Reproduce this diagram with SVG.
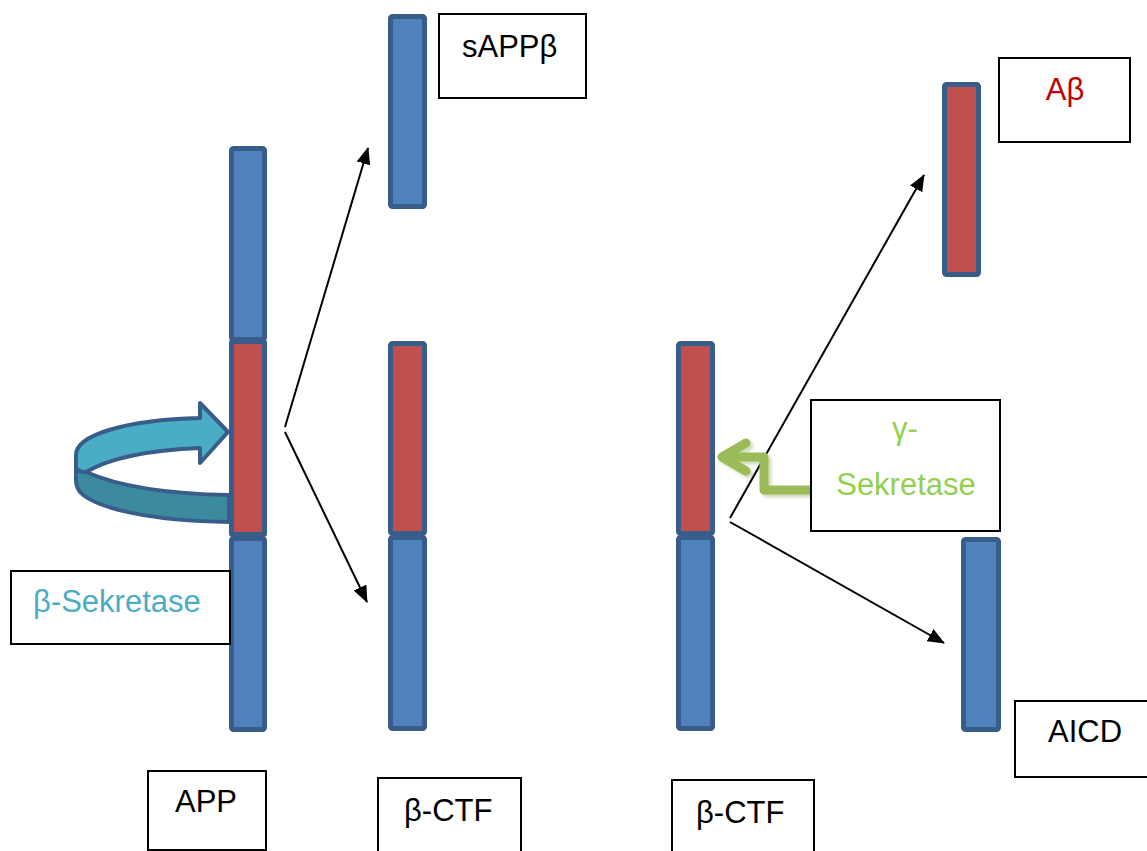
<svg xmlns="http://www.w3.org/2000/svg" width="1147" height="851" viewBox="0 0 1147 851">
  <style>
    .seg-blue { fill: #4F81BD; stroke: #385D8A; stroke-width: 5; }
    .seg-red { fill: #C0504D; stroke: #385D8A; stroke-width: 5; }
    .box { fill: #FFFFFF; stroke: #000000; stroke-width: 2; }
    .lbl { font-family: "Liberation Sans", Arial, sans-serif; font-size: 31px; fill: #000000; }
    .conn { stroke: #000000; stroke-width: 2; fill: none; marker-end: url(#tri); }
  </style>
  <defs>
    <marker id="tri" markerUnits="userSpaceOnUse" markerWidth="18" markerHeight="14" refX="16" refY="7" orient="auto">
      <path d="M0,0 L17,7 L0,14 Z" fill="#000000"/>
    </marker>
    <filter id="soft" x="-20%" y="-20%" width="140%" height="140%">
      <feGaussianBlur stdDeviation="1.5"/>
    </filter>
  </defs>

  <rect width="1147" height="851" fill="#FFFFFF"/>

  <!-- connectors -->
  <g id="connectors">
    <path class="conn" d="M285,427 L368,148"/>
    <path class="conn" d="M285,432 L367,602"/>
    <path class="conn" d="M730,518 L924,175"/>
    <path class="conn" d="M730,522 L944,643"/>
  </g>

  <!-- full APP strand -->
  <g id="app">
    <rect class="seg-blue" x="231.5" y="148.5" width="33" height="191" rx="2"/>
    <rect class="seg-red" x="231.5" y="341.5" width="33" height="193" rx="1"/>
    <rect class="seg-blue" x="231.5" y="538.5" width="33" height="191" rx="2"/>
  </g>

  <!-- beta-secretase 3D circular arrow -->
  <g id="beta-secretase-arrow" stroke="#385D8A" stroke-width="4" stroke-linejoin="round">
    <path fill="#3C8A9E" d="M86,472 C120,487 170,494 229,495 L229,522 C150,521 95,508 80,492 C77,488 76,484 76,480 L76,468 C78,471 82,472 86,472 Z"/>
    <path fill="#4BACC6" d="M200,418 C125,420 76,435 76,455 L76,468 C78,471 82,472 86,472 C110,458 150,450 200,448 L200,463 L228,432 L200,403 Z"/>
  </g>

  <g id="beta-secretase-label">
    <rect class="box" x="11" y="571" width="219" height="73"/>
    <text class="lbl" x="33" y="612" style="fill:#4BACC6">β-Sekretase</text>
  </g>

  <g id="app-label">
    <rect class="box" x="148" y="771" width="118" height="79"/>
    <text class="lbl" x="175" y="812">APP</text>
  </g>

  <!-- sAPPbeta fragment -->
  <g id="sappb">
    <rect class="seg-blue" x="390.5" y="16.5" width="34" height="190" rx="2"/>
    <rect class="box" x="439" y="14" width="147" height="84"/>
    <text class="lbl" x="462" y="57">sAPPβ</text>
  </g>

  <!-- beta-CTF after first cut -->
  <g id="bctf-1">
    <rect class="seg-red" x="390.5" y="343.5" width="34" height="190" rx="2"/>
    <rect class="seg-blue" x="390.5" y="537.5" width="34" height="191" rx="2"/>
    <rect class="box" x="378" y="778" width="143" height="80"/>
    <text class="lbl" x="404" y="821">β-CTF</text>
  </g>

  <!-- beta-CTF before gamma cut -->
  <g id="bctf-2">
    <rect class="seg-red" x="678.5" y="343.5" width="34" height="190" rx="2"/>
    <rect class="seg-blue" x="678.5" y="537.5" width="34" height="191" rx="2"/>
    <rect class="box" x="672" y="780" width="142" height="80"/>
    <text class="lbl" x="696" y="823">β-CTF</text>
  </g>

  <!-- gamma-secretase bent arrow -->
  <g id="gamma-secretase">
    <path d="M812,493 L767,493 L767,460 L725,460 M749,446 L725,460 L749,474" fill="none" stroke="#7F9A48" stroke-opacity="0.35" stroke-width="9" stroke-linejoin="round" stroke-linecap="round" filter="url(#soft)"/>
    <path d="M812,490 L764,490 L764,457 L723,457 M746,443 L722,457 L746,471" fill="none" stroke="#9BBB59" stroke-width="9" stroke-linejoin="round" stroke-linecap="round"/>
    <rect class="box" x="811" y="400" width="189" height="131"/>
    <text class="lbl" x="905" y="439" text-anchor="middle" style="fill:#92D050">γ-</text>
    <text class="lbl" x="906" y="495" text-anchor="middle" style="fill:#92D050">Sekretase</text>
  </g>

  <!-- amyloid-beta fragment -->
  <g id="abeta">
    <rect class="seg-red" x="944.5" y="84.5" width="34" height="190" rx="2"/>
    <rect class="box" x="999" y="58" width="131" height="84"/>
    <text class="lbl" x="1065" y="100" text-anchor="middle" style="fill:#C00000">Aβ</text>
  </g>

  <!-- intracellular domain fragment -->
  <g id="aicd">
    <rect class="seg-blue" x="963.5" y="539.5" width="35" height="190" rx="2"/>
    <rect class="box" x="1015" y="701" width="140" height="76"/>
    <text class="lbl" x="1048" y="742">AICD</text>
  </g>
</svg>
